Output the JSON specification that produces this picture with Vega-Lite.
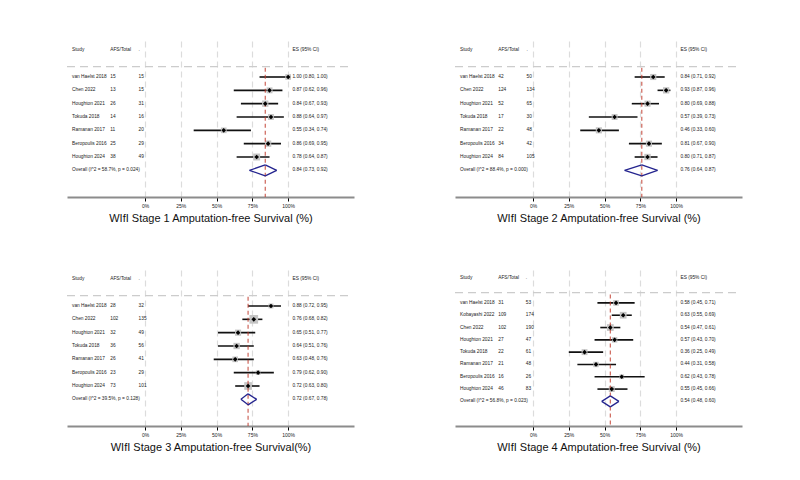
{
  "$schema": "https://vega.github.io/schema/vega-lite/v6.json",
  "padding": {"left": 66, "top": 37, "right": 5, "bottom": 5},
  "background": "white",
  "bounds": "flush",
  "columns": 2,
  "spacing": {"row": 69, "column": 101},
  "config": {
    "view": {"stroke": null},
    "font": "Liberation Sans",
    "text": {"font": "Liberation Sans", "fontSize": 4.8, "color": "#222", "align": "left", "baseline": "middle"},
    "axisX": {
      "grid": true, "gridDash": [6, 4], "gridColor": "#dcdcdc", "gridWidth": 1.2,
      "domainColor": "#8c8c8c", "domainWidth": 2, "tickColor": "#000", "tickSize": 4, "tickWidth": 1,
      "labelFont": "Liberation Sans", "labelFontSize": 5, "labelPadding": 2, "labelColor": "#222",
      "titleFont": "Liberation Sans", "titleFontSize": 11, "titleFontWeight": "normal", "titlePadding": 4, "titleColor": "#111"
    }
  },
  "datasets": {
    "s1": [
      {"study": "van Haelst 2018", "afs": 15, "total": 15, "es": 1.00, "lo": 0.80, "hi": 1.00, "w": 12, "ci": "1.00 (0.80, 1.00)", "type": "study"},
      {"study": "Chen 2022", "afs": 13, "total": 15, "es": 0.87, "lo": 0.62, "hi": 0.96, "w": 13, "ci": "0.87 (0.62, 0.96)", "type": "study"},
      {"study": "Houghton 2021", "afs": 26, "total": 31, "es": 0.84, "lo": 0.67, "hi": 0.93, "w": 15, "ci": "0.84 (0.67, 0.93)", "type": "study"},
      {"study": "Tokuda 2018", "afs": 14, "total": 16, "es": 0.88, "lo": 0.64, "hi": 0.97, "w": 13, "ci": "0.88 (0.64, 0.97)", "type": "study"},
      {"study": "Ramanan 2017", "afs": 11, "total": 20, "es": 0.55, "lo": 0.34, "hi": 0.74, "w": 12, "ci": "0.55 (0.34, 0.74)", "type": "study"},
      {"study": "Beropoulis 2016", "afs": 25, "total": 29, "es": 0.86, "lo": 0.69, "hi": 0.95, "w": 15, "ci": "0.86 (0.69, 0.95)", "type": "study"},
      {"study": "Houghton 2024", "afs": 38, "total": 49, "es": 0.78, "lo": 0.64, "hi": 0.87, "w": 18, "ci": "0.78 (0.64, 0.87)", "type": "study"},
      {"study": "Overall", "label": "Overall  (I^2 = 58.7%, p = 0.024)", "es": 0.84, "lo": 0.73, "hi": 0.92, "ci": "0.84 (0.73, 0.92)", "type": "overall"}
    ],
    "s2": [
      {"study": "van Haelst 2018", "afs": 42, "total": 50, "es": 0.84, "lo": 0.71, "hi": 0.92, "w": 14, "ci": "0.84 (0.71, 0.92)", "type": "study"},
      {"study": "Chen 2022", "afs": 124, "total": 134, "es": 0.93, "lo": 0.87, "hi": 0.96, "w": 15, "ci": "0.93 (0.87, 0.96)", "type": "study"},
      {"study": "Houghton 2021", "afs": 52, "total": 65, "es": 0.80, "lo": 0.69, "hi": 0.88, "w": 14, "ci": "0.80 (0.69, 0.88)", "type": "study"},
      {"study": "Tokuda 2018", "afs": 17, "total": 30, "es": 0.57, "lo": 0.39, "hi": 0.73, "w": 13, "ci": "0.57 (0.39, 0.73)", "type": "study"},
      {"study": "Ramanan 2017", "afs": 22, "total": 48, "es": 0.46, "lo": 0.33, "hi": 0.60, "w": 14, "ci": "0.46 (0.33, 0.60)", "type": "study"},
      {"study": "Beropoulis 2016", "afs": 34, "total": 42, "es": 0.81, "lo": 0.67, "hi": 0.90, "w": 14, "ci": "0.81 (0.67, 0.90)", "type": "study"},
      {"study": "Houghton 2024", "afs": 84, "total": 105, "es": 0.80, "lo": 0.71, "hi": 0.87, "w": 15, "ci": "0.80 (0.71, 0.87)", "type": "study"},
      {"study": "Overall", "label": "Overall  (I^2 = 88.4%, p = 0.000)", "es": 0.76, "lo": 0.64, "hi": 0.87, "ci": "0.76 (0.64, 0.87)", "type": "overall"}
    ],
    "s3": [
      {"study": "van Haelst 2018", "afs": 28, "total": 32, "es": 0.88, "lo": 0.72, "hi": 0.95, "w": 9, "ci": "0.88 (0.72, 0.95)", "type": "study"},
      {"study": "Chen 2022", "afs": 102, "total": 135, "es": 0.76, "lo": 0.68, "hi": 0.82, "w": 28, "ci": "0.76 (0.68, 0.82)", "type": "study"},
      {"study": "Houghton 2021", "afs": 32, "total": 49, "es": 0.65, "lo": 0.51, "hi": 0.77, "w": 14, "ci": "0.65 (0.51, 0.77)", "type": "study"},
      {"study": "Tokuda 2018", "afs": 36, "total": 56, "es": 0.64, "lo": 0.51, "hi": 0.76, "w": 15, "ci": "0.64 (0.51, 0.76)", "type": "study"},
      {"study": "Ramanan 2017", "afs": 26, "total": 41, "es": 0.63, "lo": 0.48, "hi": 0.76, "w": 12, "ci": "0.63 (0.48, 0.76)", "type": "study"},
      {"study": "Beropoulis 2016", "afs": 23, "total": 29, "es": 0.79, "lo": 0.62, "hi": 0.90, "w": 8, "ci": "0.79 (0.62, 0.90)", "type": "study"},
      {"study": "Houghton 2024", "afs": 73, "total": 101, "es": 0.72, "lo": 0.63, "hi": 0.80, "w": 22, "ci": "0.72 (0.63, 0.80)", "type": "study"},
      {"study": "Overall", "label": "Overall  (I^2 = 39.5%, p = 0.128)", "es": 0.72, "lo": 0.67, "hi": 0.78, "ci": "0.72 (0.67, 0.78)", "type": "overall"}
    ],
    "s4": [
      {"study": "van Haelst 2018", "afs": 31, "total": 53, "es": 0.58, "lo": 0.45, "hi": 0.71, "w": 12, "ci": "0.58 (0.45, 0.71)", "type": "study"},
      {"study": "Kobayashi 2022", "afs": 109, "total": 174, "es": 0.63, "lo": 0.55, "hi": 0.69, "w": 17, "ci": "0.63 (0.55, 0.69)", "type": "study"},
      {"study": "Chen 2022", "afs": 102, "total": 190, "es": 0.54, "lo": 0.47, "hi": 0.61, "w": 17, "ci": "0.54 (0.47, 0.61)", "type": "study"},
      {"study": "Houghton 2021", "afs": 27, "total": 47, "es": 0.57, "lo": 0.43, "hi": 0.70, "w": 11, "ci": "0.57 (0.43, 0.70)", "type": "study"},
      {"study": "Tokuda 2018", "afs": 22, "total": 61, "es": 0.36, "lo": 0.25, "hi": 0.49, "w": 13, "ci": "0.36 (0.25, 0.49)", "type": "study"},
      {"study": "Ramanan 2017", "afs": 21, "total": 48, "es": 0.44, "lo": 0.31, "hi": 0.58, "w": 11, "ci": "0.44 (0.31, 0.58)", "type": "study"},
      {"study": "Beropoulis 2016", "afs": 16, "total": 26, "es": 0.62, "lo": 0.43, "hi": 0.78, "w": 8, "ci": "0.62 (0.43, 0.78)", "type": "study"},
      {"study": "Houghton 2024", "afs": 46, "total": 83, "es": 0.55, "lo": 0.45, "hi": 0.66, "w": 13, "ci": "0.55 (0.45, 0.66)", "type": "study"},
      {"study": "Overall", "label": "Overall  (I^2 = 56.8%, p = 0.023)", "es": 0.54, "lo": 0.48, "hi": 0.60, "ci": "0.54 (0.48, 0.60)", "type": "overall"}
    ]
  },
  "concat": [
    {
      "width": 287, "height": 160,
      "data": {"name": "s1"},
      "layer": [
        {"transform": [{"filter": "datum.type == 'study'"}],
         "mark": {"type": "rule", "color": "#111", "strokeWidth": 1.6},
         "encoding": {
           "x": {"field": "lo", "type": "quantitative", "scale": {"domain": [-0.545, 1.46], "nice": false, "zero": false},
                 "axis": {"values": [0, 0.25, 0.5, 0.75, 1], "format": ".0%", "title": "WIfI Stage 1 Amputation-free Survival (%)"}},
           "x2": {"field": "hi"},
           "y": {"field": "study", "type": "nominal", "axis": null,
                 "scale": {"type": "point", "padding": 0, "domain": ["g0", "hdr", "g1", "van Haelst 2018", "Chen 2022", "Houghton 2021", "Tokuda 2018", "Ramanan 2017", "Beropoulis 2016", "Houghton 2024", "Overall", "g2", "g3"]}}
         }},
        {"transform": [{"filter": "datum.type == 'study'"}],
         "mark": {"type": "point", "shape": "square", "filled": true, "color": "#c4c4c4", "opacity": 1},
         "encoding": {"x": {"field": "es", "type": "quantitative"}, "y": {"field": "study", "type": "nominal"},
                      "size": {"field": "w", "type": "quantitative", "scale": {"domain": [0, 30], "range": [0, 80]}, "legend": null}}},
        {"transform": [{"filter": "datum.type == 'overall'"}],
         "mark": {"type": "rule", "color": "#c0392b", "strokeDash": [4, 3], "strokeWidth": 1.1, "opacity": 0.85, "yOffset": 4},
         "encoding": {"x": {"field": "es", "type": "quantitative"}, "y": {"datum": "g1", "type": "nominal"}, "y2": {"datum": "g3"}}},
        {"transform": [{"filter": "datum.type == 'study'"}],
         "mark": {"type": "point", "shape": "diamond", "filled": true, "color": "#000", "opacity": 1, "size": 22},
         "encoding": {"x": {"field": "es", "type": "quantitative"}, "y": {"field": "study", "type": "nominal"}}},
        {"transform": [{"filter": "datum.type == 'study'"}], "mark": {"type": "text"},
         "encoding": {"x": {"datum": -0.51, "type": "quantitative"}, "y": {"field": "study", "type": "nominal"}, "text": {"field": "study"}}},
        {"transform": [{"filter": "datum.type == 'study'"}], "mark": {"type": "text"},
         "encoding": {"x": {"datum": -0.243, "type": "quantitative"}, "y": {"field": "study", "type": "nominal"}, "text": {"field": "afs"}}},
        {"transform": [{"filter": "datum.type == 'study'"}], "mark": {"type": "text"},
         "encoding": {"x": {"datum": -0.045, "type": "quantitative"}, "y": {"field": "study", "type": "nominal"}, "text": {"field": "total"}}},
        {"mark": {"type": "text"},
         "encoding": {"x": {"datum": 1.03, "type": "quantitative"}, "y": {"field": "study", "type": "nominal"}, "text": {"field": "ci"}}},
        {"transform": [{"filter": "datum.type == 'overall'"}], "mark": {"type": "text"},
         "encoding": {"x": {"datum": -0.51, "type": "quantitative"}, "y": {"field": "study", "type": "nominal"}, "text": {"field": "label"}}},
        {"transform": [{"filter": "datum.type == 'overall'"}], "mark": {"type": "rule", "color": "#23238e", "strokeWidth": 1.3, "y2Offset": -5.5},
         "encoding": {"x": {"field": "lo", "type": "quantitative"}, "x2": {"field": "es"}, "y": {"field": "study", "type": "nominal"}, "y2": {"field": "study"}}},
        {"transform": [{"filter": "datum.type == 'overall'"}], "mark": {"type": "rule", "color": "#23238e", "strokeWidth": 1.3, "yOffset": -5.5},
         "encoding": {"x": {"field": "es", "type": "quantitative"}, "x2": {"field": "hi"}, "y": {"field": "study", "type": "nominal"}, "y2": {"field": "study"}}},
        {"transform": [{"filter": "datum.type == 'overall'"}], "mark": {"type": "rule", "color": "#23238e", "strokeWidth": 1.3, "y2Offset": 5.5},
         "encoding": {"x": {"field": "hi", "type": "quantitative"}, "x2": {"field": "es"}, "y": {"field": "study", "type": "nominal"}, "y2": {"field": "study"}}},
        {"transform": [{"filter": "datum.type == 'overall'"}], "mark": {"type": "rule", "color": "#23238e", "strokeWidth": 1.3, "yOffset": 5.5},
         "encoding": {"x": {"field": "es", "type": "quantitative"}, "x2": {"field": "lo"}, "y": {"field": "study", "type": "nominal"}, "y2": {"field": "study"}}},
        {"data": {"values": [{}]}, "mark": {"type": "rule", "color": "#cccccc", "strokeDash": [8, 5], "strokeWidth": 1.4, "yOffset": 3},
         "encoding": {"x": {"datum": -0.545, "type": "quantitative"}, "x2": {"datum": 1.44}, "y": {"datum": "g1", "type": "nominal"}}},
        {"data": {"values": [{}]}, "mark": {"type": "text", "text": "Study"},
         "encoding": {"x": {"datum": -0.51, "type": "quantitative"}, "y": {"datum": "hdr", "type": "nominal"}}},
        {"data": {"values": [{}]}, "mark": {"type": "text", "text": "AFS/Total"},
         "encoding": {"x": {"datum": -0.243, "type": "quantitative"}, "y": {"datum": "hdr", "type": "nominal"}}},
        {"data": {"values": [{}]}, "mark": {"type": "text", "text": "."},
         "encoding": {"x": {"datum": -0.045, "type": "quantitative"}, "y": {"datum": "hdr", "type": "nominal"}}},
        {"data": {"values": [{}]}, "mark": {"type": "text", "text": "ES (95% CI)"},
         "encoding": {"x": {"datum": 1.03, "type": "quantitative"}, "y": {"datum": "hdr", "type": "nominal"}}}
      ]
    },
    {
      "width": 287, "height": 160,
      "data": {"name": "s2"},
      "layer": [
        {"transform": [{"filter": "datum.type == 'study'"}],
         "mark": {"type": "rule", "color": "#111", "strokeWidth": 1.6},
         "encoding": {
           "x": {"field": "lo", "type": "quantitative", "scale": {"domain": [-0.545, 1.46], "nice": false, "zero": false},
                 "axis": {"values": [0, 0.25, 0.5, 0.75, 1], "format": ".0%", "title": "WIfI Stage 2 Amputation-free Survival (%)"}},
           "x2": {"field": "hi"},
           "y": {"field": "study", "type": "nominal", "axis": null,
                 "scale": {"type": "point", "padding": 0, "domain": ["g0", "hdr", "g1", "van Haelst 2018", "Chen 2022", "Houghton 2021", "Tokuda 2018", "Ramanan 2017", "Beropoulis 2016", "Houghton 2024", "Overall", "g2", "g3"]}}
         }},
        {"transform": [{"filter": "datum.type == 'study'"}],
         "mark": {"type": "point", "shape": "square", "filled": true, "color": "#c4c4c4", "opacity": 1},
         "encoding": {"x": {"field": "es", "type": "quantitative"}, "y": {"field": "study", "type": "nominal"},
                      "size": {"field": "w", "type": "quantitative", "scale": {"domain": [0, 30], "range": [0, 80]}, "legend": null}}},
        {"transform": [{"filter": "datum.type == 'overall'"}],
         "mark": {"type": "rule", "color": "#c0392b", "strokeDash": [4, 3], "strokeWidth": 1.1, "opacity": 0.85, "yOffset": 4},
         "encoding": {"x": {"field": "es", "type": "quantitative"}, "y": {"datum": "g1", "type": "nominal"}, "y2": {"datum": "g3"}}},
        {"transform": [{"filter": "datum.type == 'study'"}],
         "mark": {"type": "point", "shape": "diamond", "filled": true, "color": "#000", "opacity": 1, "size": 22},
         "encoding": {"x": {"field": "es", "type": "quantitative"}, "y": {"field": "study", "type": "nominal"}}},
        {"transform": [{"filter": "datum.type == 'study'"}], "mark": {"type": "text"},
         "encoding": {"x": {"datum": -0.51, "type": "quantitative"}, "y": {"field": "study", "type": "nominal"}, "text": {"field": "study"}}},
        {"transform": [{"filter": "datum.type == 'study'"}], "mark": {"type": "text"},
         "encoding": {"x": {"datum": -0.243, "type": "quantitative"}, "y": {"field": "study", "type": "nominal"}, "text": {"field": "afs"}}},
        {"transform": [{"filter": "datum.type == 'study'"}], "mark": {"type": "text"},
         "encoding": {"x": {"datum": -0.045, "type": "quantitative"}, "y": {"field": "study", "type": "nominal"}, "text": {"field": "total"}}},
        {"mark": {"type": "text"},
         "encoding": {"x": {"datum": 1.03, "type": "quantitative"}, "y": {"field": "study", "type": "nominal"}, "text": {"field": "ci"}}},
        {"transform": [{"filter": "datum.type == 'overall'"}], "mark": {"type": "text"},
         "encoding": {"x": {"datum": -0.51, "type": "quantitative"}, "y": {"field": "study", "type": "nominal"}, "text": {"field": "label"}}},
        {"transform": [{"filter": "datum.type == 'overall'"}], "mark": {"type": "rule", "color": "#23238e", "strokeWidth": 1.3, "y2Offset": -5.5},
         "encoding": {"x": {"field": "lo", "type": "quantitative"}, "x2": {"field": "es"}, "y": {"field": "study", "type": "nominal"}, "y2": {"field": "study"}}},
        {"transform": [{"filter": "datum.type == 'overall'"}], "mark": {"type": "rule", "color": "#23238e", "strokeWidth": 1.3, "yOffset": -5.5},
         "encoding": {"x": {"field": "es", "type": "quantitative"}, "x2": {"field": "hi"}, "y": {"field": "study", "type": "nominal"}, "y2": {"field": "study"}}},
        {"transform": [{"filter": "datum.type == 'overall'"}], "mark": {"type": "rule", "color": "#23238e", "strokeWidth": 1.3, "y2Offset": 5.5},
         "encoding": {"x": {"field": "hi", "type": "quantitative"}, "x2": {"field": "es"}, "y": {"field": "study", "type": "nominal"}, "y2": {"field": "study"}}},
        {"transform": [{"filter": "datum.type == 'overall'"}], "mark": {"type": "rule", "color": "#23238e", "strokeWidth": 1.3, "yOffset": 5.5},
         "encoding": {"x": {"field": "es", "type": "quantitative"}, "x2": {"field": "lo"}, "y": {"field": "study", "type": "nominal"}, "y2": {"field": "study"}}},
        {"data": {"values": [{}]}, "mark": {"type": "rule", "color": "#cccccc", "strokeDash": [8, 5], "strokeWidth": 1.4, "yOffset": 3},
         "encoding": {"x": {"datum": -0.545, "type": "quantitative"}, "x2": {"datum": 1.42}, "y": {"datum": "g1", "type": "nominal"}}},
        {"data": {"values": [{}]}, "mark": {"type": "text", "text": "Study"},
         "encoding": {"x": {"datum": -0.51, "type": "quantitative"}, "y": {"datum": "hdr", "type": "nominal"}}},
        {"data": {"values": [{}]}, "mark": {"type": "text", "text": "AFS/Total"},
         "encoding": {"x": {"datum": -0.243, "type": "quantitative"}, "y": {"datum": "hdr", "type": "nominal"}}},
        {"data": {"values": [{}]}, "mark": {"type": "text", "text": "."},
         "encoding": {"x": {"datum": -0.045, "type": "quantitative"}, "y": {"datum": "hdr", "type": "nominal"}}},
        {"data": {"values": [{}]}, "mark": {"type": "text", "text": "ES (95% CI)"},
         "encoding": {"x": {"datum": 1.03, "type": "quantitative"}, "y": {"datum": "hdr", "type": "nominal"}}}
      ]
    },
    {
      "width": 287, "height": 160,
      "data": {"name": "s3"},
      "layer": [
        {"transform": [{"filter": "datum.type == 'study'"}],
         "mark": {"type": "rule", "color": "#111", "strokeWidth": 1.6},
         "encoding": {
           "x": {"field": "lo", "type": "quantitative", "scale": {"domain": [-0.545, 1.46], "nice": false, "zero": false},
                 "axis": {"values": [0, 0.25, 0.5, 0.75, 1], "format": ".0%", "title": "WIfI Stage 3 Amputation-free Survival(%)"}},
           "x2": {"field": "hi"},
           "y": {"field": "study", "type": "nominal", "axis": null,
                 "scale": {"type": "point", "padding": 0, "domain": ["g0", "hdr", "g1", "van Haelst 2018", "Chen 2022", "Houghton 2021", "Tokuda 2018", "Ramanan 2017", "Beropoulis 2016", "Houghton 2024", "Overall", "g2", "g3"]}}
         }},
        {"transform": [{"filter": "datum.type == 'study'"}],
         "mark": {"type": "point", "shape": "square", "filled": true, "color": "#c4c4c4", "opacity": 1},
         "encoding": {"x": {"field": "es", "type": "quantitative"}, "y": {"field": "study", "type": "nominal"},
                      "size": {"field": "w", "type": "quantitative", "scale": {"domain": [0, 30], "range": [0, 100]}, "legend": null}}},
        {"transform": [{"filter": "datum.type == 'overall'"}],
         "mark": {"type": "rule", "color": "#c0392b", "strokeDash": [4, 3], "strokeWidth": 1.1, "opacity": 0.85, "yOffset": 4},
         "encoding": {"x": {"field": "es", "type": "quantitative"}, "y": {"datum": "g1", "type": "nominal"}, "y2": {"datum": "g3"}}},
        {"transform": [{"filter": "datum.type == 'study'"}],
         "mark": {"type": "point", "shape": "diamond", "filled": true, "color": "#000", "opacity": 1, "size": 22},
         "encoding": {"x": {"field": "es", "type": "quantitative"}, "y": {"field": "study", "type": "nominal"}}},
        {"transform": [{"filter": "datum.type == 'study'"}], "mark": {"type": "text"},
         "encoding": {"x": {"datum": -0.51, "type": "quantitative"}, "y": {"field": "study", "type": "nominal"}, "text": {"field": "study"}}},
        {"transform": [{"filter": "datum.type == 'study'"}], "mark": {"type": "text"},
         "encoding": {"x": {"datum": -0.243, "type": "quantitative"}, "y": {"field": "study", "type": "nominal"}, "text": {"field": "afs"}}},
        {"transform": [{"filter": "datum.type == 'study'"}], "mark": {"type": "text"},
         "encoding": {"x": {"datum": -0.045, "type": "quantitative"}, "y": {"field": "study", "type": "nominal"}, "text": {"field": "total"}}},
        {"mark": {"type": "text"},
         "encoding": {"x": {"datum": 1.03, "type": "quantitative"}, "y": {"field": "study", "type": "nominal"}, "text": {"field": "ci"}}},
        {"transform": [{"filter": "datum.type == 'overall'"}], "mark": {"type": "text"},
         "encoding": {"x": {"datum": -0.51, "type": "quantitative"}, "y": {"field": "study", "type": "nominal"}, "text": {"field": "label"}}},
        {"transform": [{"filter": "datum.type == 'overall'"}], "mark": {"type": "rule", "color": "#23238e", "strokeWidth": 1.3, "y2Offset": -5.5},
         "encoding": {"x": {"field": "lo", "type": "quantitative"}, "x2": {"field": "es"}, "y": {"field": "study", "type": "nominal"}, "y2": {"field": "study"}}},
        {"transform": [{"filter": "datum.type == 'overall'"}], "mark": {"type": "rule", "color": "#23238e", "strokeWidth": 1.3, "yOffset": -5.5},
         "encoding": {"x": {"field": "es", "type": "quantitative"}, "x2": {"field": "hi"}, "y": {"field": "study", "type": "nominal"}, "y2": {"field": "study"}}},
        {"transform": [{"filter": "datum.type == 'overall'"}], "mark": {"type": "rule", "color": "#23238e", "strokeWidth": 1.3, "y2Offset": 5.5},
         "encoding": {"x": {"field": "hi", "type": "quantitative"}, "x2": {"field": "es"}, "y": {"field": "study", "type": "nominal"}, "y2": {"field": "study"}}},
        {"transform": [{"filter": "datum.type == 'overall'"}], "mark": {"type": "rule", "color": "#23238e", "strokeWidth": 1.3, "yOffset": 5.5},
         "encoding": {"x": {"field": "es", "type": "quantitative"}, "x2": {"field": "lo"}, "y": {"field": "study", "type": "nominal"}, "y2": {"field": "study"}}},
        {"data": {"values": [{}]}, "mark": {"type": "rule", "color": "#cccccc", "strokeDash": [8, 5], "strokeWidth": 1.4, "yOffset": 3},
         "encoding": {"x": {"datum": -0.545, "type": "quantitative"}, "x2": {"datum": 1.44}, "y": {"datum": "g1", "type": "nominal"}}},
        {"data": {"values": [{}]}, "mark": {"type": "text", "text": "Study"},
         "encoding": {"x": {"datum": -0.51, "type": "quantitative"}, "y": {"datum": "hdr", "type": "nominal"}}},
        {"data": {"values": [{}]}, "mark": {"type": "text", "text": "AFS/Total"},
         "encoding": {"x": {"datum": -0.243, "type": "quantitative"}, "y": {"datum": "hdr", "type": "nominal"}}},
        {"data": {"values": [{}]}, "mark": {"type": "text", "text": "."},
         "encoding": {"x": {"datum": -0.045, "type": "quantitative"}, "y": {"datum": "hdr", "type": "nominal"}}},
        {"data": {"values": [{}]}, "mark": {"type": "text", "text": "ES (95% CI)"},
         "encoding": {"x": {"datum": 1.03, "type": "quantitative"}, "y": {"datum": "hdr", "type": "nominal"}}}
      ]
    },
    {
      "width": 287, "height": 160,
      "data": {"name": "s4"},
      "layer": [
        {"transform": [{"filter": "datum.type == 'study'"}],
         "mark": {"type": "rule", "color": "#111", "strokeWidth": 1.6},
         "encoding": {
           "x": {"field": "lo", "type": "quantitative", "scale": {"domain": [-0.545, 1.46], "nice": false, "zero": false},
                 "axis": {"values": [0, 0.25, 0.5, 0.75, 1], "format": ".0%", "title": "WIfI Stage 4 Amputation-free Survival (%)"}},
           "x2": {"field": "hi"},
           "y": {"field": "study", "type": "nominal", "axis": null,
                 "scale": {"type": "point", "padding": 0, "domain": ["g0", "hdr", "g1", "van Haelst 2018", "Kobayashi 2022", "Chen 2022", "Houghton 2021", "Tokuda 2018", "Ramanan 2017", "Beropoulis 2016", "Houghton 2024", "Overall", "g2", "g3"]}}
         }},
        {"transform": [{"filter": "datum.type == 'study'"}],
         "mark": {"type": "point", "shape": "square", "filled": true, "color": "#c4c4c4", "opacity": 1},
         "encoding": {"x": {"field": "es", "type": "quantitative"}, "y": {"field": "study", "type": "nominal"},
                      "size": {"field": "w", "type": "quantitative", "scale": {"domain": [0, 30], "range": [0, 140]}, "legend": null}}},
        {"transform": [{"filter": "datum.type == 'overall'"}],
         "mark": {"type": "rule", "color": "#c0392b", "strokeDash": [4, 3], "strokeWidth": 1.1, "opacity": 0.85, "yOffset": 4},
         "encoding": {"x": {"field": "es", "type": "quantitative"}, "y": {"datum": "g1", "type": "nominal"}, "y2": {"datum": "g3"}}},
        {"transform": [{"filter": "datum.type == 'study'"}],
         "mark": {"type": "point", "shape": "diamond", "filled": true, "color": "#000", "opacity": 1, "size": 22},
         "encoding": {"x": {"field": "es", "type": "quantitative"}, "y": {"field": "study", "type": "nominal"}}},
        {"transform": [{"filter": "datum.type == 'study'"}], "mark": {"type": "text"},
         "encoding": {"x": {"datum": -0.51, "type": "quantitative"}, "y": {"field": "study", "type": "nominal"}, "text": {"field": "study"}}},
        {"transform": [{"filter": "datum.type == 'study'"}], "mark": {"type": "text"},
         "encoding": {"x": {"datum": -0.243, "type": "quantitative"}, "y": {"field": "study", "type": "nominal"}, "text": {"field": "afs"}}},
        {"transform": [{"filter": "datum.type == 'study'"}], "mark": {"type": "text"},
         "encoding": {"x": {"datum": -0.05, "type": "quantitative"}, "y": {"field": "study", "type": "nominal"}, "text": {"field": "total"}}},
        {"mark": {"type": "text"},
         "encoding": {"x": {"datum": 1.03, "type": "quantitative"}, "y": {"field": "study", "type": "nominal"}, "text": {"field": "ci"}}},
        {"transform": [{"filter": "datum.type == 'overall'"}], "mark": {"type": "text"},
         "encoding": {"x": {"datum": -0.51, "type": "quantitative"}, "y": {"field": "study", "type": "nominal"}, "text": {"field": "label"}}},
        {"transform": [{"filter": "datum.type == 'overall'"}], "mark": {"type": "rule", "color": "#23238e", "strokeWidth": 1.3, "y2Offset": -5.5},
         "encoding": {"x": {"field": "lo", "type": "quantitative"}, "x2": {"field": "es"}, "y": {"field": "study", "type": "nominal"}, "y2": {"field": "study"}}},
        {"transform": [{"filter": "datum.type == 'overall'"}], "mark": {"type": "rule", "color": "#23238e", "strokeWidth": 1.3, "yOffset": -5.5},
         "encoding": {"x": {"field": "es", "type": "quantitative"}, "x2": {"field": "hi"}, "y": {"field": "study", "type": "nominal"}, "y2": {"field": "study"}}},
        {"transform": [{"filter": "datum.type == 'overall'"}], "mark": {"type": "rule", "color": "#23238e", "strokeWidth": 1.3, "y2Offset": 5.5},
         "encoding": {"x": {"field": "hi", "type": "quantitative"}, "x2": {"field": "es"}, "y": {"field": "study", "type": "nominal"}, "y2": {"field": "study"}}},
        {"transform": [{"filter": "datum.type == 'overall'"}], "mark": {"type": "rule", "color": "#23238e", "strokeWidth": 1.3, "yOffset": 5.5},
         "encoding": {"x": {"field": "es", "type": "quantitative"}, "x2": {"field": "lo"}, "y": {"field": "study", "type": "nominal"}, "y2": {"field": "study"}}},
        {"data": {"values": [{}]}, "mark": {"type": "rule", "color": "#cccccc", "strokeDash": [8, 5], "strokeWidth": 1.4, "yOffset": 2},
         "encoding": {"x": {"datum": -0.545, "type": "quantitative"}, "x2": {"datum": 1.44}, "y": {"datum": "g1", "type": "nominal"}}},
        {"data": {"values": [{}]}, "mark": {"type": "text", "text": "Study"},
         "encoding": {"x": {"datum": -0.51, "type": "quantitative"}, "y": {"datum": "hdr", "type": "nominal"}}},
        {"data": {"values": [{}]}, "mark": {"type": "text", "text": "AFS/Total"},
         "encoding": {"x": {"datum": -0.243, "type": "quantitative"}, "y": {"datum": "hdr", "type": "nominal"}}},
        {"data": {"values": [{}]}, "mark": {"type": "text", "text": "."},
         "encoding": {"x": {"datum": -0.05, "type": "quantitative"}, "y": {"datum": "hdr", "type": "nominal"}}},
        {"data": {"values": [{}]}, "mark": {"type": "text", "text": "ES (95% CI)"},
         "encoding": {"x": {"datum": 1.03, "type": "quantitative"}, "y": {"datum": "hdr", "type": "nominal"}}}
      ]
    }
  ]
}
